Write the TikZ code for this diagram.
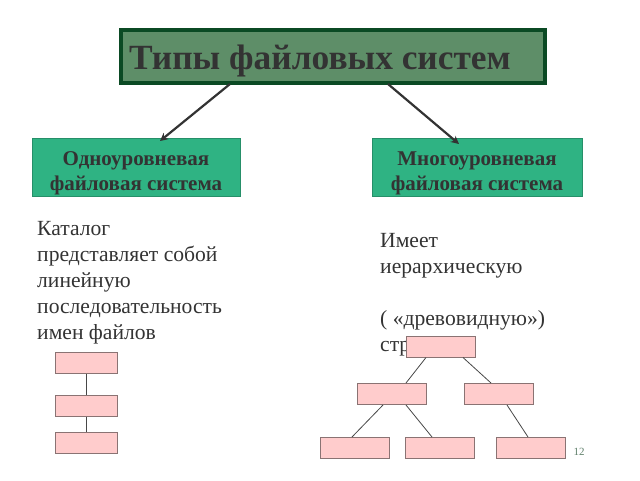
\documentclass[tikz,border=0pt]{standalone}
\usepackage{fontspec}
\setmainfont{Liberation Serif}
\usetikzlibrary{arrows.meta}
\definecolor{titlefill}{HTML}{5E8E68}
\definecolor{titleborder}{HTML}{0B4A24}
\definecolor{boxgreen}{HTML}{2FB383}
\definecolor{txt}{HTML}{333333}
\definecolor{pinkfill}{HTML}{FFCCCC}
\definecolor{pinkborder}{HTML}{8A7373}
\definecolor{pagenum}{HTML}{5F7F6A}
\begin{document}
\begin{tikzpicture}[x=1pt,y=-1pt,
  catbox/.style={draw=boxgreen!80!black, line width=0.4pt, fill=boxgreen, inner sep=0pt},
  cattext/.style={text=txt, font=\fontsize{21}{25}\selectfont\bfseries, align=center, inner sep=0pt},
  file/.style={draw=pinkborder, line width=1pt, fill=pinkfill},
  link/.style={draw=txt!90, line width=0.8pt},
  bigarrow/.style={draw=txt, line width=2.2pt, -{Stealth[length=8pt,width=8pt]}},
  body/.style={text=txt, font=\fontsize{21.6}{26}\selectfont, align=left, anchor=north west, inner sep=0pt}]
\useasboundingbox (0,0) rectangle (640,480);
% title
\node[draw=titleborder, line width=3.5pt, fill=titlefill, minimum width=424pt, minimum height=53pt, inner sep=0pt] (title) at (333,56.5) {};
\node[anchor=west, text=txt, font=\fontsize{35.4}{40}\selectfont\bfseries, inner sep=0pt] (ttext) at (129,61) {Типы файловых систем};
% category boxes
\node[catbox, minimum width=208pt, minimum height=58pt] (one) at (136,167) {};
\node[cattext] (onet) at (136,173) {Одноуровневая\\файловая система};
\node[catbox, minimum width=210pt, minimum height=58pt] (multi) at (477,167) {};
\node[cattext] (multit) at (477,173) {Многоуровневая\\файловая система};
\coordinate (a1s) at (230,84);
\coordinate (a2s) at (388,84);
\coordinate (a1e) at (160,141);
\coordinate (a2e) at (459,144);
\draw[bigarrow] (a1s) -- (a1e);
\draw[bigarrow] (a2s) -- (a2e);
% texts
\node[body] (ltext) at (37,221) {Каталог\\представляет собой\\линейную\\последовательность\\имен файлов};
\node[body] (rtext) at (380,233) {Имеет\\иерархическую\\\\( «древовидную»)\\структуру};
% left chain
\node[file, minimum width=62pt, minimum height=21pt, inner sep=0pt] (l1) at (86,362.5) {};
\node[file, minimum width=62pt, minimum height=21pt, inner sep=0pt] (l2) at (86,405.5) {};
\node[file, minimum width=62pt, minimum height=21pt, inner sep=0pt] (l3) at (86,442.5) {};
\draw[link] (l1) -- (l2);
\draw[link] (l2) -- (l3);
% tree
\tikzset{tbox/.style={file, minimum width=69pt, minimum height=21pt, inner sep=0pt}}
\node[tbox] (t0) at (440.5,346.5) {};
\node[tbox] (t1) at (392,394) {};
\node[tbox] (t2) at (498.5,394) {};
\node[tbox] (t3) at (354.5,448) {};
\node[tbox] (t4) at (439.5,448) {};
\node[tbox] (t5) at (530.5,448) {};
\draw[link] (t0.south -| 426,0) -- (t1.north -| 406,0);
\draw[link] (t0.south -| 463,0) -- (t2.north -| 491,0);
\draw[link] (t1.south -| 383,0) -- (t3.north -| 352,0);
\draw[link] (t1.south -| 406,0) -- (t4.north -| 432,0);
\draw[link] (t2.south -| 507,0) -- (t5.north -| 528,0);
\node[text=pagenum, font=\fontsize{11}{13}\selectfont, inner sep=0pt] (pg) at (579,452) {12};
\end{tikzpicture}
\end{document}
